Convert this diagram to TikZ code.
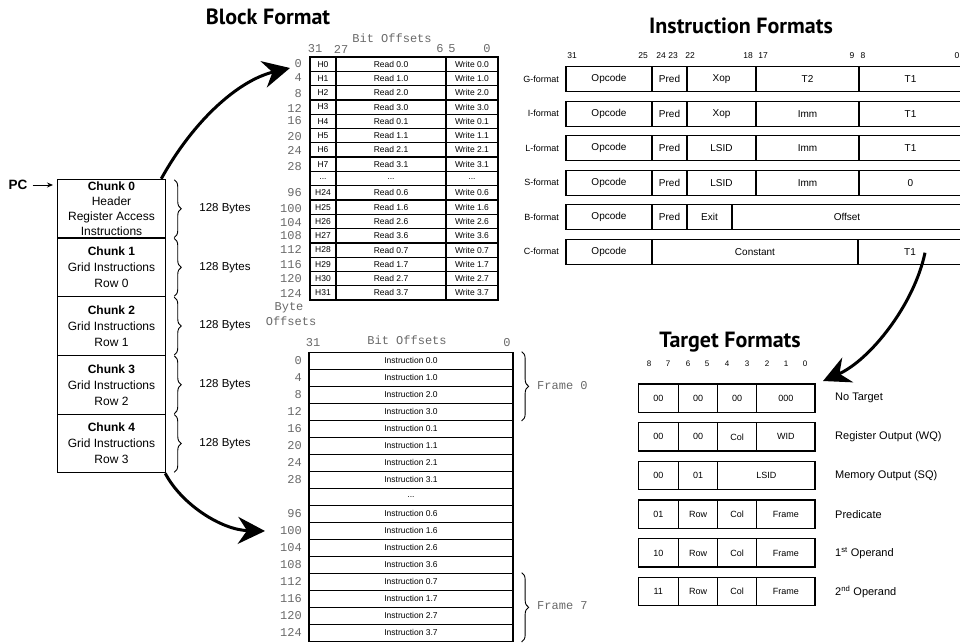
\documentclass[tikz,border=0pt]{standalone}
\usepackage{fontspec}
\setmainfont{Liberation Sans}
\setmonofont{Liberation Mono}
\newfontfamily\headfont{PT Sans}
\usetikzlibrary{arrows.meta,decorations.pathreplacing,calc}
\definecolor{offgray}{RGB}{105,105,105}
\newcommand{\etcdots}{...}

\tikzset{
  title/.style={font=\headfont\bfseries\fontsize{22}{24}\selectfont, inner sep=0pt},
  tcell/.style={draw, line width=1.3pt, inner sep=0pt, minimum height=14.3pt,
                font=\fontsize{8.5}{10}\selectfont},
  icell/.style={draw, line width=1.3pt, inner sep=0pt, minimum height=17pt,
                minimum width=204pt, font=\fontsize{8.5}{10}\selectfont},
  fmt/.style={draw, line width=1.3pt, inner sep=0pt, minimum height=25pt,
              font=\fontsize{10}{12}\selectfont},
  tgt/.style={draw, line width=1.3pt, inner sep=0pt, minimum height=28.3pt,
              font=\fontsize{9}{11}\selectfont},
  mono/.style={font=\ttfamily\fontsize{12}{12}\selectfont, text=offgray, inner sep=0pt},
  bitnum/.style={font=\fontsize{8.5}{10}\selectfont, inner sep=0pt},
  rowlbl/.style={font=\fontsize{9}{11}\selectfont, inner sep=0pt},
  tgtlbl/.style={font=\fontsize{11}{13}\selectfont, inner sep=0pt, anchor=west},
  chunkbox/.style={draw, line width=1.1pt, minimum width=108.4pt, minimum height=58.7pt,
                   inner sep=0pt, align=center},
  bigarrow/.style={line width=3pt, -{Stealth[length=27pt,width=27pt,inset=9pt]}},
  brc/.style={decorate, decoration={brace, amplitude=7pt}, line width=0.9pt},
  bytes/.style={font=\fontsize{11.5}{14}\selectfont, inner sep=0pt, anchor=west},
}

\begin{document}
\begin{tikzpicture}[x=1pt,y=-1pt]
\useasboundingbox (0,0) rectangle (960,643);

% ---------- titles ----------
\node[title] (tblock) at (268,17) {Block Format};
\node[title] (tinstr) at (741,26) {Instruction Formats};
\node[title] (ttarget) at (730,342) {Target Formats};

% ---------- block header table ----------
\node[mono] (hbit) at (392,38) {Bit Offsets};
\node[mono] (hb31) at (315,49) {31};
\node[mono] (hb27) at (341,49) {27};
\node[mono] (hb6) at (440,49) {6};
\node[mono] (hb5) at (452,49) {5};
\node[mono] (hb0) at (487,49) {0};

\foreach \h/\rd/\wr [count=\i from 0] in {
  H0/Read 0.0/Write 0.0, H1/Read 1.0/Write 1.0, H2/Read 2.0/Write 2.0, H3/Read 3.0/Write 3.0,
  H4/Read 0.1/Write 0.1, H5/Read 1.1/Write 1.1, H6/Read 2.1/Write 2.1, H7/Read 3.1/Write 3.1,
  \etcdots/\etcdots/\etcdots,
  H24/Read 0.6/Write 0.6, H25/Read 1.6/Write 1.6, H26/Read 2.6/Write 2.6, H27/Read 3.6/Write 3.6,
  H28/Read 0.7/Write 0.7, H29/Read 1.7/Write 1.7, H30/Read 2.7/Write 2.7, H31/Read 3.7/Write 3.7}{
  \pgfmathsetmacro{\yc}{57+\i*14.3+7.15}
  \node[tcell, minimum width=26pt] (hd\i) at (323,\yc) {\h};
  \node[tcell, minimum width=110pt] (rd\i) at (391,\yc) {\rd};
  \node[tcell, minimum width=52pt] (wr\i) at (472,\yc) {\wr};
}

\foreach \t/\y [count=\i] in {0/64, 4/78, 8/94, 12/108, 16/121, 20/137, 24/150, 28/167,
  96/193, 100/209, 104/223, 108/236, 112/249, 116/265, 120/279, 124/293}{
  \node[mono, anchor=east] (ho\i) at (302,\y) {\t};
}
\node[mono] (hbyte) at (289,308) {Byte};
\node[mono] (hoffs) at (291,321) {Offsets};

% ---------- frame table ----------
\node[mono] (fb31) at (313,343) {31};
\node[mono] (fbit) at (407,340) {Bit Offsets};
\node[mono] (fb0) at (507,343) {0};

\foreach \t [count=\i from 0] in {
  Instruction 0.0, Instruction 1.0, Instruction 2.0, Instruction 3.0,
  Instruction 0.1, Instruction 1.1, Instruction 2.1, Instruction 3.1, \etcdots,
  Instruction 0.6, Instruction 1.6, Instruction 2.6, Instruction 3.6,
  Instruction 0.7, Instruction 1.7, Instruction 2.7, Instruction 3.7}{
  \node[icell] (in\i) at (411,{352.3+\i*17+8.5}) {\t};
}
\foreach \t/\k in {0/0, 4/1, 8/2, 12/3, 16/4, 20/5, 24/6, 28/7,
  96/9, 100/10, 104/11, 108/12, 112/13, 116/14, 120/15, 124/16}{
  \node[mono, anchor=east] (fo\k) at (302,{352.3+\k*17+8.5}) {\t};
}
\draw[brc] ($(in0.north east)+(8,0)$) coordinate (fr0a) -- ($(in3.south east)+(8,0)$) coordinate (fr0b);
\node[mono, anchor=west] (fr0) at (537,386) {Frame 0};
\draw[brc] ($(in13.north east)+(8,0)$) coordinate (fr7a) -- ($(in16.south east)+(8,0)$) coordinate (fr7b);
\node[mono, anchor=west] (fr7) at (537,606) {Frame 7};

% ---------- chunks of a block ----------
\node[chunkbox, font=\fontsize{12}{14.8}\selectfont] (c0) at (111.5,{179.3+29.35})
  {\textbf{Chunk 0}\\Header\\Register Access\\Instructions};
\foreach \k/\r in {1/0, 2/1, 3/2, 4/3}{
  \node[chunkbox, font=\fontsize{12}{16}\selectfont] (c\k) at (111.5,{179.3+\k*58.7+29.35})
    {\textbf{Chunk \k}\\Grid Instructions\\Row \r};
}
\foreach \k in {0,...,4}{
  \draw[brc] ($(c\k.north east)+(8,1)$) -- ($(c\k.south east)+(8,-1)$);
  \node[bytes] (by\k) at ($(c\k.east)+(33,0)$) {128 Bytes};
}
\node[font=\bfseries\fontsize{13.5}{15}\selectfont, inner sep=0pt] (pc) at (18,185) {PC};
\draw[line width=0.9pt, -{Stealth[length=6pt,width=5pt]}] ($(pc.east)+(5,0)$) -- (53,185);

% ---------- instruction formats ----------
\foreach \t/\x in {31/572, 25/643, 24/661, 23/673, 22/690, 18/748, 17/763, 9/852, 8/863, 0/957}{
  \node[bitnum] (ib\t) at (\x,56) {\t};
}
\foreach \f/\a/\b/\c/\d [count=\k from 0] in {
  G/Opcode/Pred/Xop/T2, I/Opcode/Pred/Xop/Imm, L/Opcode/Pred/LSID/Imm, S/Opcode/Pred/LSID/Imm}{
  \pgfmathsetmacro{\yc}{66.7+\k*34.5+12.5}
  \node[rowlbl, anchor=east] (fl\f) at (559,\yc) {\f-format};
  \node[fmt, minimum width=86pt] (\f op) at (609,\yc) {\a};
  \node[fmt, minimum width=35pt] (\f pr) at (669.5,\yc) {\b};
  \node[fmt, minimum width=69pt] (\f xo) at (721.5,\yc) {\c};
  \node[fmt, minimum width=103pt] (\f im) at (807.5,\yc) {\d};
}
\node[fmt, minimum width=103pt] (Gt1) at (910.5,79.2) {T1};
\node[fmt, minimum width=103pt] (It1) at (910.5,113.7) {T1};
\node[fmt, minimum width=103pt] (Lt1) at (910.5,148.2) {T1};
\node[fmt, minimum width=103pt] (St1) at (910.5,182.7) {0};
% B-format
\node[rowlbl, anchor=east] (flB) at (559,217.2) {B-format};
\node[fmt, minimum width=86pt] (Bop) at (609,217.2) {Opcode};
\node[fmt, minimum width=35pt] (Bpr) at (669.5,217.2) {Pred};
\node[fmt, minimum width=45pt] (Bex) at (709.5,217.2) {Exit};
\node[fmt, minimum width=230pt] (Bof) at (847,217.2) {Offset};
% C-format
\node[rowlbl, anchor=east] (flC) at (559,251.7) {C-format};
\node[fmt, minimum width=86pt] (Cop) at (609,251.7) {Opcode};
\node[fmt, minimum width=206pt] (Cco) at (755,251.7) {Constant};
\node[fmt, minimum width=104pt] (Ct1) at (910,251.7) {T1};

% ---------- target formats ----------
\foreach \t/\x in {8/649, 7/668, 6/688, 5/707, 4/727, 3/747, 2/767, 1/786, 0/805}{
  \node[bitnum, font=\fontsize{8}{10}\selectfont] (tn\t) at (\x,364) {\t};
}
\foreach \a/\b/\c/\d/\lbl [count=\k from 0] in {
  00/00/00/000/No Target, 00/00/Col/WID/Register Output (WQ),
  01/Row/Col/Frame/Predicate, 10/Row/Col/Frame/1\textsuperscript{st} Operand,
  11/Row/Col/Frame/2\textsuperscript{nd} Operand}{
  \pgfmathsetmacro{\kk}{\k<2 ? \k : \k+1}
  \pgfmathsetmacro{\yc}{384+\kk*38.7+14.15}
  \node[tgt, minimum width=40pt] (ta\k) at (658.3,\yc) {\a};
  \node[tgt, minimum width=39.4pt] (tb\k) at (698,\yc) {\b};
  \node[tgt, minimum width=39pt] (tc\k) at (737.2,\yc) {\c};
  \node[tgt, minimum width=58.3pt] (td\k) at (785.85,\yc) {\d};
  \node[tgtlbl] (tl\k) at (835,\yc) {\lbl};
}
\node[tgt, minimum width=40pt] (maa) at (658.3,475.55) {00};
\node[tgt, minimum width=39.4pt] (mab) at (698,475.55) {01};
\node[tgt, minimum width=97.3pt] (mac) at (766.35,475.55) {LSID};
\node[tgtlbl] (mal) at (835,475.55) {Memory Output (SQ)};

% ---------- connecting arrows ----------
\coordinate (hdrtip) at (290,68);
\coordinate (frmtip) at (265,531);
\coordinate (tgttip) at (823,381);
\draw[bigarrow] ($(c0.north east)+(-5,0)$) .. controls (195,118) and (240,80) .. (hdrtip);
\draw[bigarrow] ($(c4.south east)+(-1,0)$) .. controls (182,505) and (222,530) .. (frmtip);
\draw[bigarrow] ($(Ct1.center)+(15,1)$) .. controls (914,305) and (870,360) .. (tgttip);
\end{tikzpicture}
\end{document}
